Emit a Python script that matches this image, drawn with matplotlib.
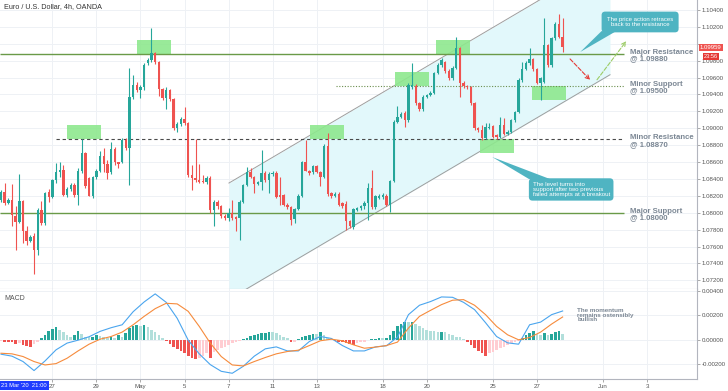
import matplotlib
matplotlib.use("Agg")
import matplotlib.pyplot as plt
from matplotlib.patches import Rectangle, Polygon
import numpy as np

plt.rcParams['font.family'] = ['Liberation Sans', 'DejaVu Sans']

# EUR/USD 4h candles (index 0 = first visible candle)
opens = [1.08153, 1.08240, 1.08114, 1.08153, 1.07964, 1.07889, 1.08134, 1.07779, 1.07669, 1.07720,
         1.07562, 1.08027, 1.07878, 1.08240, 1.08185, 1.08382, 1.08488, 1.08508, 1.08212, 1.08279,
         1.08331, 1.08212, 1.08500, 1.08705, 1.08410, 1.08201, 1.08418, 1.08500, 1.08666, 1.08579,
         1.08477, 1.08756, 1.08595, 1.08595, 1.08863, 1.08764, 1.09367, 1.09513, 1.09454, 1.09493,
         1.09769, 1.09808, 1.09887, 1.09789, 1.09465, 1.09355, 1.09454, 1.09343, 1.09000, 1.09052,
         1.09107, 1.09060, 1.08449, 1.08410, 1.08390, 1.08380, 1.08362, 1.08410, 1.08027, 1.08126,
         1.08075, 1.07964, 1.07937, 1.07996, 1.07945, 1.07937, 1.08126, 1.08323, 1.08488, 1.08429,
         1.08343, 1.08362, 1.08469, 1.08382, 1.08461, 1.08469, 1.08205, 1.08205, 1.08094, 1.08067,
         1.07925, 1.08043, 1.08201, 1.08595, 1.08500, 1.08477, 1.08555, 1.08488, 1.08429, 1.08792,
         1.08232, 1.08201, 1.08224, 1.08114, 1.08106, 1.07897, 1.07830, 1.08035, 1.08059, 1.08075,
         1.08114, 1.08291, 1.08067, 1.08173, 1.08181, 1.08201, 1.08094, 1.08378, 1.09079, 1.09138,
         1.09178, 1.09099, 1.09493, 1.09501, 1.09296, 1.09225, 1.09375, 1.09394, 1.09422, 1.09651,
         1.09749, 1.09788, 1.09682, 1.09591, 1.09717, 1.09946, 1.09540, 1.09500, 1.09484, 1.09295,
         1.08999, 1.08980, 1.08881, 1.09000, 1.09027, 1.08920, 1.08893, 1.09039, 1.08932, 1.08960,
         1.09098, 1.09197, 1.09571, 1.09702, 1.09768, 1.09816, 1.09697, 1.09540, 1.09552, 1.09985,
         1.09749, 1.10064, 1.10234, 1.10084]
highs = [1.08264, 1.08350, 1.08170, 1.08342, 1.08075, 1.08461, 1.08150, 1.07838, 1.07740, 1.07759,
         1.08055, 1.08134, 1.08250, 1.08280, 1.08400, 1.08587, 1.08606, 1.08567, 1.08300, 1.08350,
         1.08350, 1.08528, 1.08875, 1.08725, 1.08429, 1.08430, 1.08520, 1.08733, 1.08764, 1.08626,
         1.08843, 1.08784, 1.08606, 1.08883, 1.08890, 1.09710, 1.09631, 1.09552, 1.09513, 1.09769,
         1.09830, 1.10183, 1.09900, 1.09800, 1.09480, 1.09493, 1.09470, 1.09360, 1.09080, 1.09130,
         1.09257, 1.09080, 1.08567, 1.08875, 1.08579, 1.08449, 1.08430, 1.08430, 1.08150, 1.08150,
         1.08090, 1.07980, 1.08055, 1.08153, 1.07956, 1.08153, 1.08340, 1.08547, 1.08528, 1.08440,
         1.08380, 1.08744, 1.08490, 1.08480, 1.08500, 1.08490, 1.08429, 1.08220, 1.08110, 1.08080,
         1.08060, 1.08220, 1.08610, 1.08863, 1.08510, 1.08570, 1.08570, 1.08500, 1.08810, 1.08941,
         1.08250, 1.08240, 1.08240, 1.08130, 1.08134, 1.07910, 1.08060, 1.08070, 1.08090, 1.08140,
         1.08350, 1.08508, 1.08210, 1.08220, 1.08230, 1.08220, 1.08390, 1.09100, 1.09265, 1.09190,
         1.09200, 1.09530, 1.09769, 1.09520, 1.09310, 1.09390, 1.09410, 1.09440, 1.09670, 1.09770,
         1.09830, 1.09800, 1.09700, 1.09740, 1.10076, 1.09960, 1.09560, 1.09510, 1.09500, 1.09310,
         1.09010, 1.09039, 1.09058, 1.09066, 1.09040, 1.08935, 1.09137, 1.09118, 1.08980, 1.09110,
         1.09210, 1.09590, 1.09788, 1.09800, 1.09946, 1.09830, 1.09710, 1.09610, 1.10301, 1.10000,
         1.10080, 1.10260, 1.10352, 1.10301]
lows = [1.08133, 1.08094, 1.08100, 1.07838, 1.07562, 1.07878, 1.07641, 1.07621, 1.07650, 1.07279,
        1.07503, 1.07858, 1.07860, 1.08122, 1.08170, 1.08350, 1.08429, 1.08193, 1.08190, 1.08260,
        1.08190, 1.08094, 1.08469, 1.08291, 1.08193, 1.08180, 1.08400, 1.08488, 1.08488, 1.08398,
        1.08461, 1.08567, 1.08528, 1.08587, 1.08740, 1.08331, 1.09347, 1.09434, 1.09355, 1.09454,
        1.09750, 1.09790, 1.09760, 1.09380, 1.09330, 1.09225, 1.09320, 1.08980, 1.08961, 1.09030,
        1.09040, 1.08420, 1.08272, 1.08370, 1.08350, 1.08350, 1.08340, 1.08000, 1.07838, 1.08050,
        1.07940, 1.07910, 1.07897, 1.07917, 1.07779, 1.07673, 1.08110, 1.08311, 1.08410, 1.08232,
        1.08330, 1.08272, 1.08360, 1.08232, 1.08440, 1.08170, 1.08094, 1.08080, 1.08050, 1.07858,
        1.07878, 1.08030, 1.08190, 1.08490, 1.08450, 1.08460, 1.08470, 1.08311, 1.08410, 1.08200,
        1.08180, 1.08190, 1.08080, 1.08060, 1.07799, 1.07820, 1.07810, 1.08020, 1.08030, 1.08050,
        1.07917, 1.08050, 1.08050, 1.08160, 1.08160, 1.08080, 1.08015, 1.08360, 1.09060, 1.09120,
        1.09020, 1.09080, 1.09470, 1.09280, 1.09200, 1.09210, 1.09360, 1.09380, 1.09400, 1.09640,
        1.09730, 1.09660, 1.09570, 1.09570, 1.09700, 1.09374, 1.09480, 1.09470, 1.09280, 1.08980,
        1.08960, 1.08861, 1.08870, 1.08990, 1.08880, 1.08870, 1.08880, 1.08920, 1.08915, 1.08945,
        1.09080, 1.09180, 1.09550, 1.09690, 1.09750, 1.09680, 1.09520, 1.09335, 1.09530, 1.09730,
        1.09730, 1.10050, 1.10070, 1.09907]
closes = [1.08244, 1.08114, 1.08153, 1.07976, 1.07889, 1.08134, 1.07779, 1.07669, 1.07712, 1.07562,
          1.08027, 1.07878, 1.08232, 1.08185, 1.08382, 1.08488, 1.08508, 1.08212, 1.08279, 1.08331,
          1.08212, 1.08500, 1.08705, 1.08311, 1.08201, 1.08418, 1.08500, 1.08666, 1.08579, 1.08469,
          1.08756, 1.08595, 1.08579, 1.08863, 1.08764, 1.09367, 1.09513, 1.09454, 1.09493, 1.09749,
          1.09808, 1.09887, 1.09789, 1.09465, 1.09355, 1.09454, 1.09343, 1.09000, 1.09052, 1.09107,
          1.09060, 1.08449, 1.08410, 1.08390, 1.08370, 1.08362, 1.08410, 1.08027, 1.08126, 1.08075,
          1.07964, 1.07937, 1.07996, 1.07937, 1.07929, 1.08126, 1.08323, 1.08488, 1.08429, 1.08343,
          1.08362, 1.08469, 1.08382, 1.08461, 1.08469, 1.08185, 1.08185, 1.08094, 1.08067, 1.07917,
          1.08043, 1.08201, 1.08595, 1.08500, 1.08469, 1.08555, 1.08488, 1.08429, 1.08792, 1.08224,
          1.08201, 1.08224, 1.08094, 1.08083, 1.07897, 1.07838, 1.08043, 1.08055, 1.08075, 1.08114,
          1.08291, 1.08067, 1.08193, 1.08201, 1.08205, 1.08094, 1.08378, 1.09079, 1.09138, 1.09170,
          1.09099, 1.09513, 1.09513, 1.09296, 1.09225, 1.09375, 1.09394, 1.09422, 1.09651, 1.09749,
          1.09808, 1.09682, 1.09591, 1.09717, 1.09946, 1.09540, 1.09500, 1.09484, 1.09295, 1.08999,
          1.08980, 1.08881, 1.09019, 1.09019, 1.08893, 1.08893, 1.09039, 1.08932, 1.08960, 1.09098,
          1.09197, 1.09571, 1.09702, 1.09768, 1.09816, 1.09697, 1.09540, 1.09591, 1.09985, 1.09749,
          1.10064, 1.10234, 1.10084, 1.09959]

# MACD histogram, one bar per candle
macd_hist = [-0.00008, -0.00014, -0.00016, -0.00022, -0.00036, -0.00030, -0.00041, -0.00047, -0.00055, -0.00036,
             -0.00014, 0.00014, 0.00041, 0.00069, 0.00088, 0.00101, 0.00082, 0.00063, 0.00041, 0.00027,
             0.00036, 0.00069, 0.00047, 0.00027, 0.00019, 0.00027, 0.00041, 0.00033, 0.00022, 0.00014,
             0.00019, 0.00014, 0.00041, 0.00027, 0.00055, 0.00096, 0.00110, 0.00118, 0.00112, 0.00118,
             0.00101, 0.00082, 0.00063, 0.00041, 0.00014, -0.00008, -0.00036, -0.00055, -0.00074, -0.00091,
             -0.00110, -0.00129, -0.00145, -0.00156, -0.00145, -0.00129, -0.00110, -0.00145, -0.00096, -0.00082,
             -0.00069, -0.00055, -0.00041, -0.00030, -0.00019, -0.00008, 0.00003, 0.00014, 0.00033, 0.00041,
             0.00047, 0.00052, 0.00055, 0.00060, 0.00060, 0.00055, 0.00041, 0.00027, 0.00014, -0.00014,
             -0.00014, 0.00003, 0.00022, 0.00033, 0.00041, 0.00049, 0.00047, 0.00063, 0.00041, 0.00014,
             -0.00003, -0.00008, -0.00014, -0.00019, -0.00027, -0.00036, -0.00041, -0.00027, -0.00019, -0.00014,
             -0.00005, 0.00005, 0.00008, 0.00011, 0.00011, 0.00014, 0.00041, 0.00074, 0.00110, 0.00129,
             0.00145, 0.00143, 0.00145, 0.00129, 0.00110, 0.00096, 0.00082, 0.00074, 0.00069, 0.00060,
             0.00063, 0.00063, 0.00047, 0.00036, 0.00027, 0.00019, 0.00008, -0.00019, -0.00041, -0.00069,
             -0.00091, -0.00110, -0.00129, -0.00110, -0.00096, -0.00082, -0.00069, -0.00055, -0.00041, -0.00030,
             -0.00019, -0.00008, 0.00014, 0.00041, 0.00055, 0.00069, 0.00047, 0.00036, 0.00055, 0.00041,
             0.00047, 0.00063, 0.00069, 0.00047]

# MACD and signal lines, read every third candle
macd_idx = list(range(0, 154, 3))
macd_line = [-0.00118, -0.00134, -0.00178, -0.00252, -0.00173, -0.00082, -0.00027, -0.00003, 0.00025, 0.00069,
             0.00099, 0.00123, 0.00230, 0.00310, 0.00376, 0.00307, 0.00176, -0.00003, -0.00115, -0.00203,
             -0.00258, -0.00274, -0.00217, -0.00134, -0.00074, -0.00058, -0.00091, -0.00091, -0.00014, 0.00027,
             0.00011, -0.00047, -0.00091, -0.00091, -0.00058, -0.00049, 0.00022, 0.00206, 0.00283, 0.00313,
             0.00351, 0.00348, 0.00307, 0.00247, 0.00140, 0.00027, -0.00025, -0.00036, 0.00123, 0.00145,
             0.00206, 0.00236]
signal_line = [-0.00110, -0.00115, -0.00137, -0.00178, -0.00206, -0.00195, -0.00151, -0.00091, -0.00036, 0.00005,
               0.00027, 0.00063, 0.00123, 0.00192, 0.00255, 0.00299, 0.00294, 0.00233, 0.00110, -0.00027,
               -0.00137, -0.00206, -0.00214, -0.00178, -0.00145, -0.00115, -0.00096, -0.00085, -0.00047, -0.00008,
               0.00005, -0.00008, -0.00041, -0.00069, -0.00060, -0.00047, -0.00019, 0.00096, 0.00192, 0.00241,
               0.00288, 0.00324, 0.00329, 0.00283, 0.00206, 0.00110, 0.00041, 0.00000, 0.00019, 0.00063,
               0.00129, 0.00187]

# date axis: trading-day number (from 23 Apr) and label
day_slots = [2, 4, 6, 8, 10, 12, 14, 17, 19, 22, 24, 27, 29]
day_labels = ['27', '29', 'May', '5', '7', '11', '13', '18', '20', '25', '27', 'Jun', '3']
CANDLES_PER_DAY = 6

# horizontal levels
levels = [1.0988, 1.0950, 1.0887, 1.0800]
level_names = ['Major Resistance', 'Minor Support', 'Minor Resistance', 'Major Support']
last_price = 1.09959

TEAL = '#26a69a'
RED = '#ef5350'
OLIVE = '#6a9a48'
GRID = '#eef1f5'
AXCOL = '#b2b5be'
LABEL = '#7b8794'
CALLOUT = '#4fb4c2'

n = len(closes)
x = np.arange(n)
o = np.array(opens)
c = np.array(closes)
up = c >= o
cols = np.where(up, TEAL, RED)

fig = plt.figure(figsize=(7.28, 3.91), dpi=100)
ax = fig.add_axes([0, 102 / 391, 697 / 728, 289 / 391])
ax2 = fig.add_axes([0, 12 / 391, 697 / 728, 90 / 391], sharex=ax)

xmin, xmax = -0.27, 189.6
ax.set_xlim(xmin, xmax)
ax.set_ylim(1.07098, 1.10518)
ax2.set_ylim(-0.00321, 0.00416)

tick_pos = [2 + CANDLES_PER_DAY * s for s in day_slots]

# grid
for a in (ax, ax2):
    for t in tick_pos:
        a.axvline(t, color=GRID, lw=0.7, zorder=0)
price_ticks = np.arange(1.072, 1.1041, 0.002)
macd_ticks = [-0.002, 0.0, 0.002, 0.004]
ax.set_yticks(price_ticks)
for yv in price_ticks:
    ax.axhline(yv, color=GRID, lw=0.7, zorder=0)
ax2.set_yticks(macd_ticks)
for yv in macd_ticks:
    ax2.axhline(yv, color=GRID, lw=0.7, zorder=0)

# ascending channel
slope = 0.000256
ch_x = np.array([62.1, 165.9])
upper = 1.08352 + slope * (ch_x - 62.1)
lower = 1.07122 + slope * (ch_x - 67.8)
ax.fill_between(ch_x, lower, upper, color='#e2f8fb', zorder=0.5, lw=0)
ax.plot(ch_x, upper, color='#9e9e9e', lw=0.7, zorder=1)
ax.plot(ch_x, lower, color='#9e9e9e', lw=0.7, zorder=1)

# green zones
zones = [(18.0, 1.08873), (37.1, 1.09879), (84.2, 1.08873), (107.4, 1.09500),
         (118.5, 1.09879), (130.5, 1.08707), (144.7, 1.09335)]
for zx, zy in zones:
    ax.add_patch(Rectangle((zx, zy), 9.3, 0.00163, facecolor='#8ee88e', edgecolor='none',
                           alpha=0.9, zorder=1.5))

# levels
line_end = 169.8
ax.hlines(levels[0], xmin, line_end, color=OLIVE, lw=1.0, zorder=2)
ax.hlines(levels[3], xmin, line_end, color=OLIVE, lw=1.0, zorder=2)
ax.hlines(levels[2], 15, line_end, color='#4a4a4a', lw=0.8, linestyles=(0, (3, 2.5)), zorder=2)
ax.hlines(levels[1], 91.3, line_end, color='#6b8e4e', lw=0.8, linestyles=(0, (1, 1.5)), zorder=2)
for lv, name in zip(levels, level_names):
    ax.text(171.4, lv - 0.0002, f'{name}\n@ {lv:.5f}', fontsize=5.6, fontweight='bold',
            color=LABEL, va='center', ha='left', linespacing=0.9, zorder=6)

# candles
ax.vlines(x, lows, highs, colors=cols, lw=0.8, zorder=3)
body_bot = np.minimum(o, c)
body_h = np.maximum(np.abs(c - o), 0.00003)
ax.bar(x, body_h, bottom=body_bot, width=0.65, color=cols, lw=0, zorder=4)

# scenario arrows
ax.annotate('', xy=(161, 1.09548), xytext=(154.5, 1.09844),
            arrowprops=dict(arrowstyle='->', color='#e53935', lw=0.8, ls='--', mutation_scale=7))
ax.annotate('', xy=(170.8, 1.10057), xytext=(161.9, 1.09548),
            arrowprops=dict(arrowstyle='->', color='#9ccc65', lw=0.8, ls='--', mutation_scale=7))

# callouts
ax.add_patch(Polygon([(157.8, 1.09903), (163.6, 1.10150), (167.6, 1.10150)], closed=True,
                     facecolor=CALLOUT, edgecolor='none', zorder=7))
ax.text(174.1, 1.10258, 'The price action retraces\nback to the resistance', fontsize=4.3,
        color='white', ha='center', va='center', linespacing=1.0, zorder=8,
        bbox=dict(boxstyle='round,pad=0.9,rounding_size=0.6', fc=CALLOUT, ec='none'))
ax.add_patch(Polygon([(133.8, 1.08660), (143.8, 1.08400), (149.5, 1.08400)], closed=True,
                     facecolor=CALLOUT, edgecolor='none', zorder=7))
ax.text(144.8, 1.08276, 'The level turns into\nsupport after two previous\nfailed attempts at a breakout',
        fontsize=4.4, color='white', ha='left', va='center', linespacing=1.0, zorder=8,
        bbox=dict(boxstyle='round,pad=0.6,rounding_size=0.6', fc=CALLOUT, ec='none'))

ax.text(0.0057, 0.976, 'Euro / U.S. Dollar, 4h, OANDA', transform=ax.transAxes, fontsize=5.2,
        color='#333333', va='center', ha='left')

# MACD panel
hist = np.array(macd_hist)
hcols = []
for i, h in enumerate(hist):
    prev = hist[i - 1] if i > 0 else h
    if h >= 0:
        hcols.append(TEAL if h > prev else '#b2dfdb')
    else:
        hcols.append(RED if h < prev else '#ffcdd2')
ax2.bar(x, hist, width=0.72, color=hcols, lw=0, zorder=2)
ax2.plot(macd_idx, macd_line, color='#4aa5ee', lw=0.8, zorder=3)
ax2.plot(macd_idx, signal_line, color='#f68b3c', lw=0.8, zorder=3)
ax2.text(0.0057, 0.9, 'MACD', transform=ax2.transAxes, fontsize=5, color='#555555', va='center')
ax2.text(157, 0.00203, 'The momentum\nremains ostensibly\nbullish', fontsize=4.5, fontweight='bold',
         color=LABEL, va='center', ha='left', linespacing=0.95)

# axes styling
for a in (ax, ax2):
    a.yaxis.tick_right()
    a.spines['left'].set_visible(False)
    a.spines['top'].set_visible(False)
    a.spines['right'].set_color(AXCOL)
    a.spines['bottom'].set_color(AXCOL)
    a.spines['right'].set_linewidth(0.8)
    a.spines['bottom'].set_linewidth(0.8)
    a.tick_params(axis='y', labelsize=4.4, labelcolor='#555555', color='#888888', length=2, pad=1.5,
                  width=0.5)
    a.set_facecolor('white')
# the 1.10000 label sits under the last-price tag, as in the original
ax.set_yticklabels(['' if abs(v - 1.1) < 1e-6 else f'{v:.5f}' for v in price_ticks])
ax2.set_yticklabels([f'{v:.5f}' for v in macd_ticks])
ax.tick_params(axis='x', bottom=False, labelbottom=False)
ax2.set_xticks(tick_pos)
ax2.set_xticklabels(day_labels)
ax2.tick_params(axis='x', labelsize=4.4, labelcolor='#555555', color='#888888', length=2, pad=1.5,
                width=0.5)

# last price tag and bar countdown
ax.text(1.0 + 3 / 697, last_price, f'{last_price:.5f}', transform=ax.get_yaxis_transform(),
        fontsize=4.3, color='white', va='center', ha='left', zorder=10, clip_on=False,
        bbox=dict(boxstyle='square,pad=0.2', fc=RED, ec='none'))
ax.text(1.0 + 7 / 697, last_price - 0.00108, '23:56', transform=ax.get_yaxis_transform(),
        fontsize=4.1, color='white', va='center', ha='left', zorder=10, clip_on=False,
        bbox=dict(boxstyle='square,pad=0.2', fc='#e53935', ec='none'))

# crosshair date tag
fig.text(1 / 728, 5.5 / 391, "23 Mar '20  21:00", fontsize=4.2, color='white', va='center', ha='left',
         bbox=dict(boxstyle='square,pad=0.35', fc='#1f3cff', ec='none'))

fig.savefig('out.png', dpi=100)
